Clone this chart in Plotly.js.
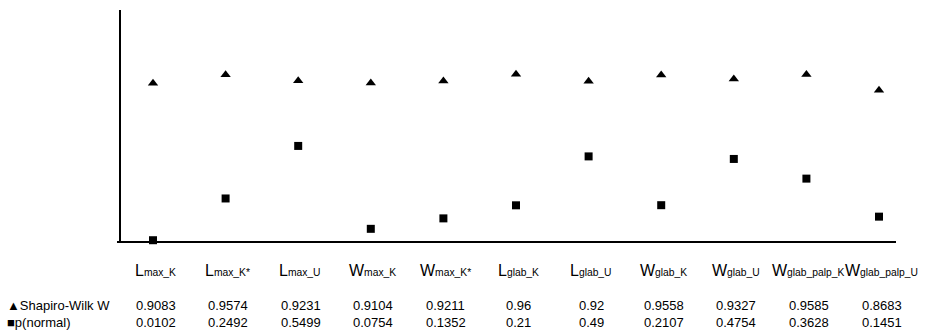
<!DOCTYPE html>
<html>
<head>
<meta charset="utf-8">
<script src="https://cdn.plot.ly/plotly-3.0.1.min.js"></script>
<style>html,body{margin:0;padding:0;background:#fff;}#chart{width:930px;height:332px;}</style>
</head>
<body>
<div id="chart"></div>
<script>
var catMain = ['L','L','L','W','W','L','L','W','W','W','W'];
var catSub = ['max_K','max_K*','max_U','max_K','max_K*','glab_K','glab_U','glab_K','glab_U','glab_palp_K','glab_palp_U'];
var shapiroW = [0.9083,0.9574,0.9231,0.9104,0.9211,0.96,0.92,0.9558,0.9327,0.9585,0.8683];
var pNormal = [0.0102,0.2492,0.5499,0.0754,0.1352,0.21,0.49,0.2107,0.4754,0.3628,0.1451];
var seriesNames = ['Shapiro-Wilk W','p(normal)'];
var seriesSymbols = ['\u25B2','\u25A0'];

var xs = catSub.map(function(_, i){ return i; });
var FONT = 'Liberation Sans, Arial, sans-serif';

var traces = [
  {x: xs, y: shapiroW, mode: 'markers', type: 'scatter', name: seriesNames[0],
   marker: {symbol: 'triangle-up', size: 9, color: '#000'}, hoverinfo: 'y', cliponaxis: false},
  {x: xs, y: pNormal, mode: 'markers', type: 'scatter', name: seriesNames[1],
   marker: {symbol: 'square', size: 8, color: '#000'}, hoverinfo: 'y', cliponaxis: false}
];

var plotW = 776, plotH = 231.8;
function py(p){ return (241.8 - p) / plotH; }
function px(p){ return (p - 120) / plotW; }

var ann = [];
for (var i = 0; i < xs.length; i++) {
  ann.push({x: xs[i], y: py(270), xref: 'x', yref: 'paper', xanchor: 'center', yanchor: 'middle',
    xshift: 2, showarrow: false, font: {family: FONT, size: 16, color: '#000'},
    text: catMain[i] + '<span style="font-size:10.3px">' + catSub[i] + '</span>'});
  ann.push({x: xs[i], y: py(305), xref: 'x', yref: 'paper', xanchor: 'center', yanchor: 'middle',
    xshift: 2.5, showarrow: false, font: {family: FONT, size: 13, color: '#000'},
    text: String(shapiroW[i])});
  ann.push({x: xs[i], y: py(322.5), xref: 'x', yref: 'paper', xanchor: 'center', yanchor: 'middle',
    xshift: 2.5, showarrow: false, font: {family: FONT, size: 13, color: '#000'},
    text: String(pNormal[i])});
}
var rowY = [305, 322.5];
for (var s = 0; s < 2; s++) {
  ann.push({x: px(5), y: py(rowY[s]), xref: 'paper', yref: 'paper', xanchor: 'left', yanchor: 'middle',
    showarrow: false, font: {family: FONT, size: 13, color: '#000'},
    text: seriesSymbols[s] + seriesNames[s]});
}

var layout = {
  width: 930, height: 332,
  margin: {l: 120, r: 34, t: 10, b: 90, pad: 0},
  paper_bgcolor: '#fff', plot_bgcolor: '#fff',
  showlegend: false,
  xaxis: {range: [-0.4545, 10.234], showline: false,
    showticklabels: false, ticks: '', showgrid: false, zeroline: false},
  yaxis: {range: [0, 1.328], showline: false,
    showticklabels: false, ticks: '', showgrid: false, zeroline: false},
  shapes: [
    {type: 'line', xref: 'paper', yref: 'paper', x0: px(117), x1: 1, y0: 0, y1: 0,
     line: {color: '#000', width: 2}},
    {type: 'line', xref: 'paper', yref: 'paper', x0: 0, x1: 0, y0: 0, y1: 1,
     line: {color: '#000', width: 2}}
  ],
  annotations: ann
};
Plotly.newPlot('chart', traces, layout, {displayModeBar: false, staticPlot: true});
</script>
</body>
</html>
